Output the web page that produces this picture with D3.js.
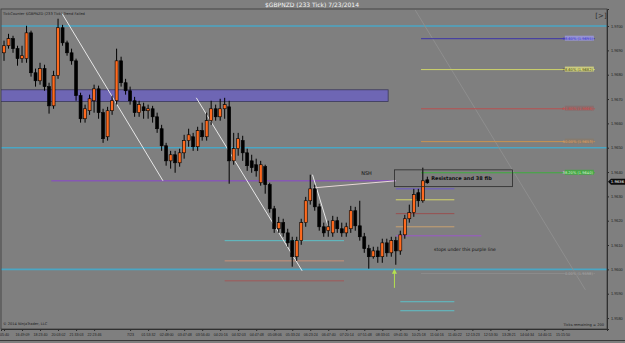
<!DOCTYPE html>
<html>
<head>
<meta charset="utf-8">
<script src="https://cdn.jsdelivr.net/npm/d3@7/dist/d3.min.js"></script>
<style>
  html, body { margin: 0; padding: 0; background: #7f7f7f; }
  svg { display: block; font-family: "DejaVu Sans", sans-serif; }
</style>
</head>
<body>
<div id="container"></div>
<script>
// ---- data ----
const opens = [
  1.96890,1.96919,1.96948,1.96907,1.96866,1.96866,1.96972,1.96808,1.96775,1.96825,
  1.96751,1.96672,1.96796,1.96993,1.96931,1.96890,1.96857,1.96714,1.96619,1.96652,
  1.96693,1.96742,1.96644,1.96545,1.96652,1.96693,1.96857,1.96767,1.96734,1.96693,
  1.96644,1.96668,1.96652,1.96660,1.96627,1.96578,1.96508,1.96446,1.96471,1.96438,
  1.96479,1.96529,1.96545,1.96504,1.96570,1.96545,1.96611,1.96660,1.96627,1.96660,
  1.96668,1.96446,1.96496,1.96529,1.96479,1.96446,1.96430,1.96356,1.96422,1.96348,
  1.96249,1.96167,1.96192,1.96150,1.96118,1.96052,1.96118,1.96192,1.96282,1.96331,
  1.96257,1.96175,1.96159,1.96150,1.96200,1.96167,1.96150,1.96167,1.96241,1.96179,
  1.96134,1.96085,1.96052,1.96076,1.96052,1.96109,1.96068,1.96118,1.96076,1.96142,
  1.96208,1.96233,1.96315,1.96282,1.96368
];
const closes = [
  1.96919,1.96948,1.96907,1.96866,1.96878,1.96972,1.96808,1.96775,1.96825,1.96751,
  1.96672,1.96796,1.96993,1.96931,1.96890,1.96857,1.96714,1.96619,1.96660,1.96701,
  1.96742,1.96644,1.96537,1.96652,1.96693,1.96857,1.96767,1.96734,1.96693,1.96644,
  1.96677,1.96652,1.96660,1.96627,1.96578,1.96508,1.96446,1.96471,1.96438,1.96479,
  1.96529,1.96553,1.96504,1.96570,1.96545,1.96611,1.96660,1.96627,1.96660,1.96677,
  1.96446,1.96496,1.96537,1.96479,1.96426,1.96418,1.96405,1.96430,1.96348,1.96249,
  1.96167,1.96192,1.96150,1.96109,1.96052,1.96118,1.96192,1.96282,1.96331,1.96257,
  1.96175,1.96150,1.96175,1.96200,1.96167,1.96150,1.96175,1.96241,1.96179,1.96134,
  1.96085,1.96052,1.96076,1.96052,1.96109,1.96068,1.96118,1.96076,1.96142,1.96208,
  1.96233,1.96307,1.96282,1.96364,1.96356
];
const highs = [
  1.96940,1.96968,1.96960,1.96919,1.96919,1.97001,1.96981,1.96825,1.96849,1.96841,
  1.96767,1.96816,1.97030,1.97005,1.96940,1.96907,1.96866,1.96726,1.96677,1.96718,
  1.96759,1.96755,1.96660,1.96668,1.96714,1.96907,1.96874,1.96783,1.96751,1.96709,
  1.96693,1.96685,1.96677,1.96672,1.96644,1.96594,1.96520,1.96487,1.96487,1.96496,
  1.96553,1.96578,1.96561,1.96586,1.96603,1.96644,1.96693,1.96677,1.96701,1.96705,
  1.96693,1.96561,1.96561,1.96549,1.96496,1.96471,1.96455,1.96446,1.96430,1.96356,
  1.96261,1.96216,1.96208,1.96167,1.96134,1.96134,1.96208,1.96298,1.96389,1.96348,
  1.96270,1.96192,1.96200,1.96220,1.96216,1.96192,1.96192,1.96261,1.96257,1.96282,
  1.96150,1.96101,1.96093,1.96093,1.96126,1.96126,1.96134,1.96134,1.96159,1.96224,
  1.96266,1.96331,1.96331,1.96418,1.96381
];
const lows = [
  1.96857,1.96907,1.96890,1.96837,1.96849,1.96849,1.96792,1.96751,1.96759,1.96734,
  1.96640,1.96660,1.96783,1.96919,1.96878,1.96841,1.96693,1.96603,1.96603,1.96635,
  1.96644,1.96619,1.96520,1.96529,1.96635,1.96677,1.96751,1.96718,1.96677,1.96627,
  1.96627,1.96619,1.96619,1.96603,1.96561,1.96487,1.96426,1.96414,1.96397,1.96422,
  1.96455,1.96504,1.96487,1.96487,1.96529,1.96529,1.96594,1.96611,1.96611,1.96619,
  1.96352,1.96430,1.96467,1.96446,1.96405,1.96397,1.96381,1.96344,1.96311,1.96233,
  1.96150,1.96150,1.96134,1.96093,1.96011,1.96035,1.96101,1.96175,1.96266,1.96241,
  1.96159,1.96134,1.96134,1.96134,1.96150,1.96134,1.96134,1.96150,1.96159,1.96118,
  1.96068,1.96003,1.96044,1.96027,1.96027,1.96052,1.96052,1.96019,1.96060,1.96126,
  1.96192,1.96216,1.96257,1.96274,1.96352
];

const timeTickIdx = [0,4,8,12,16,20,28,32,36,40,44,48,52,56,60,64,68,72,76,80,84,88,92,96,100,104,108,112,116,120,124];
const timeTickLabels = ["05:40","16:49:09","18:23:40","20:03:02","21:33:03","22:23:46","7/23","01:53:32","02:48:00","03:47:48",
  "03:56:40","04:20:16","04:32:03","04:47:48","05:08:06","05:33:24","06:23:24","06:47:40","07:20:14","07:51:48",
  "08:33:01","09:41:30","10:25:18","11:04:16","11:40:22","12:13:23","12:53:30","13:28:21","14:04:34","14:40:11","15:15:50"];

const priceTicks = [1.9700,1.9690,1.9680,1.9670,1.9660,1.9650,1.9640,1.9630,1.9620,1.9610,1.9600,1.9590,1.9580];
const roundLevels = [1.9700, 1.9650, 1.9600];

const fibLevels = [1.96948, 1.96821, 1.96660, 1.96525, 1.96397, 1.95983];
const fibLabels = ["88.60% (1.9695)","78.60% (1.9682)","61.80% (1.9666)","50.00% (1.9653)","38.20% (1.9640)","0.00% (1.9598)"];

// short horizontal levels in the middle: [fromIdx, toIdx, price]
const midLevels = [[49,75.5,1.96118],[49,75.5,1.96035],[49,75.5,1.95953],
  [87,100,1.96331],[87,100,1.96286],[87,100,1.96229],[87,100,1.96175],[87,106,1.96138],
  [88,100,1.95867],[88,100,1.95830]];

// drawn trend lines: [idx1, price1, idx2, price2]
const trendLines = [[12.9,1.97051,35.3,1.96364],[42.7,1.96705,66.2,1.95994],[68.5,1.96389,72,1.96175]];
const nshLine = [68.7,1.96335,87,1.96364];
const faintLine = [91.3,1.97066,129.1,1.95916];
const purpleBand = [-1,85.3,1.96738,1.96690];
const purpleLine = [10.5,87,1.96364];
const noteBox = [86.7,112.9,1.96409,1.96340];
const arrowPt = [86.7,1.95924,1.96003];
const lastPrice = 1.9636;

// ---- layout ----
const W = 625, H = 343;
const pL = 1, pR = 607, pT = 9, pB = 329;

const svg = d3.select("#container").append("svg")
  .attr("width", W).attr("height", H);

svg.append("rect").attr("width", W).attr("height", H).attr("fill", "#7f7f7f");

const x = d3.scaleLinear().domain([-0.67, 133.9]).range([pL, pR]);
const y = d3.scaleLinear().domain([1.95755, 1.97070]).range([pB, pT]);

// title
svg.append("text").attr("x", 312).attr("y", 6.5).attr("text-anchor", "middle")
  .attr("fill", "#f4f4f4").attr("font-size", 6).text("$GBPNZD (233 Tick)  7/23/2014");

const plot = svg.append("g");
plot.append("defs").append("clipPath").attr("id", "clip")
  .append("rect").attr("x", pL).attr("y", pT).attr("width", pR - pL).attr("height", pB - pT);
const g = plot.append("g").attr("clip-path", "url(#clip)");

// purple zone
g.append("rect")
  .attr("x", x(purpleBand[0])).attr("width", x(purpleBand[1]) - x(purpleBand[0]))
  .attr("y", y(purpleBand[2])).attr("height", y(purpleBand[3]) - y(purpleBand[2]))
  .attr("fill", "#6e66b4").attr("stroke", "#3a3858").attr("stroke-width", 0.8);

// round number levels
g.selectAll(".round").data(roundLevels).enter().append("line")
  .attr("x1", pL).attr("x2", pR)
  .attr("y1", d => y(d)).attr("y2", d => y(d))
  .attr("stroke", "#4aa6c4").attr("stroke-width", 1.6);

// faint projection line
g.append("line")
  .attr("x1", x(faintLine[0])).attr("y1", y(faintLine[1]))
  .attr("x2", x(faintLine[2])).attr("y2", y(faintLine[3]))
  .attr("stroke", "#8e8e8e").attr("stroke-width", 1);

// fib levels
const fibColors = ["#3c34a8", "#cfd46a", "#b85050", "#c89250", "#3cae3c", "#8c8c8c"];
const fibText = ["#3c34c8", "#3a3a10", "#d04848", "#e0a060", "#d8f0d8", "#a8a8a8"];
const fibBg = ["#9c98e8", "#dede80", "#8a6a6a", "#8a7a6a", "#3cae3c", "#7f7f7f"];
const fx1 = x(92.6), fx2 = x(131.2);
fibLevels.forEach((lv, i) => {
  g.append("line").attr("x1", fx1).attr("x2", fx2)
    .attr("y1", y(lv)).attr("y2", y(lv))
    .attr("stroke", fibColors[i]).attr("stroke-width", 1);
  g.append("rect").attr("x", fx2 - 30).attr("y", y(lv) - 3).attr("width", 29).attr("height", 5)
    .attr("fill", fibBg[i]).attr("opacity", 0.8);
  g.append("text").attr("x", fx2 - 2).attr("y", y(lv) + 1.5).attr("text-anchor", "end")
    .attr("font-size", 3.6).attr("fill", fibText[i]).text(fibLabels[i]);
});

// mid short levels
const midColors = ["#5cc0c8", "#c89078", "#a05858", "#6a58c8", "#d4d468", "#985050", "#c8a070", "#9a58c8", "#5cc0c8", "#5cc0c8"];
g.selectAll(".mid").data(midLevels).enter().append("line")
  .attr("x1", d => x(d[0])).attr("x2", d => x(d[1]))
  .attr("y1", d => y(d[2])).attr("y2", d => y(d[2]))
  .attr("stroke", (d, i) => midColors[i]).attr("stroke-width", 1);

// purple stop line
g.append("line")
  .attr("x1", x(purpleLine[0])).attr("x2", x(purpleLine[1]))
  .attr("y1", y(purpleLine[2])).attr("y2", y(purpleLine[2]))
  .attr("stroke", "#8658b4").attr("stroke-width", 1.4);

// trend lines
g.selectAll(".trend").data(trendLines).enter().append("line")
  .attr("x1", d => x(d[0])).attr("y1", d => y(d[1]))
  .attr("x2", d => x(d[2])).attr("y2", d => y(d[3]))
  .attr("stroke", "#e8e8e8").attr("stroke-width", 1);

g.append("line")
  .attr("x1", x(nshLine[0])).attr("y1", y(nshLine[1]))
  .attr("x2", x(nshLine[2])).attr("y2", y(nshLine[3]))
  .attr("stroke", "#e8d8d8").attr("stroke-width", 1);

// candles
const bars = d3.range(opens.length).map(i => ({i, o: opens[i], h: highs[i], l: lows[i], c: closes[i]}));
const cw = 3;
g.selectAll(".wick").data(bars).enter().append("line")
  .attr("x1", d => x(d.i)).attr("x2", d => x(d.i))
  .attr("y1", d => y(d.h)).attr("y2", d => y(d.l))
  .attr("stroke", "#000").attr("stroke-width", 1);
g.selectAll(".body").data(bars).enter().append("rect")
  .attr("x", d => x(d.i) - cw / 2).attr("width", cw)
  .attr("y", d => y(Math.max(d.o, d.c)))
  .attr("height", d => Math.max(1, Math.abs(y(d.o) - y(d.c))))
  .attr("fill", d => d.c >= d.o ? "#ff6a1e" : "#000")
  .attr("stroke", "#000").attr("stroke-width", 0.6);

// annotations
g.append("rect")
  .attr("x", x(noteBox[0])).attr("width", x(noteBox[1]) - x(noteBox[0]))
  .attr("y", y(noteBox[2])).attr("height", y(noteBox[3]) - y(noteBox[2]))
  .attr("fill", "none").attr("stroke", "#2a2a2a").attr("stroke-width", 0.8);
g.append("text").attr("x", x((noteBox[0] + noteBox[1]) / 2) + 8).attr("y", y((noteBox[2] + noteBox[3]) / 2) + 2)
  .attr("text-anchor", "middle").attr("font-size", 5).attr("font-weight", "bold")
  .attr("fill", "#111").text("Resistance and 38 fib");
g.append("text").attr("x", x(80.5)).attr("y", y(1.96389))
  .attr("text-anchor", "middle").attr("font-size", 5).attr("fill", "#111").text("NSH");
g.append("text").attr("x", x(95.5)).attr("y", y(1.96076))
  .attr("font-size", 4.5).attr("fill", "#111").text("stops under this purple line");

// green arrow
const ax = x(arrowPt[0]);
g.append("line").attr("x1", ax).attr("x2", ax)
  .attr("y1", y(arrowPt[1])).attr("y2", y(arrowPt[2]) + 4)
  .attr("stroke", "#b4e050").attr("stroke-width", 1);
g.append("path")
  .attr("d", `M${ax},${y(arrowPt[2])} l-2.5,5 h5 z`)
  .attr("fill", "#b4e050");

// small texts
svg.append("text").attr("x", 3).attr("y", 14.5).attr("font-size", 3.6).attr("fill", "#1c1c1c")
  .text("TickCounter $GBPNZD (233 Tick)  Trend Failed");
svg.append("text").attr("x", 3).attr("y", 325).attr("font-size", 3.6).attr("fill", "#1c1c1c")
  .text("\u00a9 2014 NinjaTrader, LLC");
svg.append("text").attr("x", 604).attr("y", 326).attr("text-anchor", "end").attr("font-size", 3.6).attr("fill", "#1c1c1c")
  .text("Ticks remaining = 200");
svg.append("text").attr("x", 601).attr("y", 18).attr("text-anchor", "middle").attr("font-size", 7).attr("fill", "#2c2c2c")
  .text("[>]");

// axes
const yAxis = svg.append("g").attr("transform", `translate(${pR},0)`)
  .call(d3.axisRight(y).tickValues(priceTicks).tickSize(2).tickFormat(d3.format(".4f")));
yAxis.select(".domain").attr("stroke", "#2a2a2a");
yAxis.selectAll("line").attr("stroke", "#2a2a2a");
yAxis.selectAll("text").attr("font-size", 3.8).attr("fill", "#1c1c1c").attr("x", 4);

const xAxis = svg.append("g").attr("transform", `translate(0,${pB})`)
  .call(d3.axisBottom(x).tickValues(timeTickIdx).tickSize(2)
    .tickFormat((d, i) => timeTickLabels[i]));
xAxis.select(".domain").attr("stroke", "#2a2a2a");
xAxis.selectAll("line").attr("stroke", "#2a2a2a");
xAxis.selectAll("text").attr("font-size", 3.6).attr("fill", "#1c1c1c").attr("y", 4);

// frame
svg.append("rect").attr("x", pL).attr("y", pT).attr("width", pR - pL).attr("height", pB - pT)
  .attr("fill", "none").attr("stroke", "#3a3a3a").attr("stroke-width", 0.8);
svg.append("line").attr("x1", 0).attr("x2", W).attr("y1", 340.5).attr("y2", 340.5)
  .attr("stroke", "#3a3a3a").attr("stroke-width", 1);

// last price marker
const ly = y(lastPrice);
svg.append("path").attr("d", `M${pR + 1},${ly} l3,-3 h14 v6 h-14 z`).attr("fill", "#0c0c0c");
svg.append("text").attr("x", pR + 10.5).attr("y", ly + 1.4).attr("text-anchor", "middle")
  .attr("font-size", 3.8).attr("fill", "#fff").text(d3.format(".4f")(lastPrice));
</script>
</body>
</html>
